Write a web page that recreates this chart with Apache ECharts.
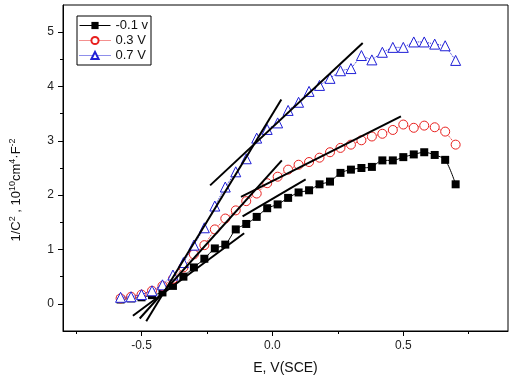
<!DOCTYPE html>
<html>
<head>
<meta charset="utf-8">
<script src="https://cdn.jsdelivr.net/npm/echarts@6/dist/echarts.min.js"></script>
<style>
  html, body { margin: 0; padding: 0; background: #fff; }
  #myChart { width: 512px; height: 380px; }
</style>
</head>
<body>
<div id="myChart"></div>
<script>
// potential, V(SCE)
var potentials = [-0.58, -0.54, -0.50, -0.46, -0.42, -0.38, -0.34, -0.30, -0.26, -0.22, -0.18,
  -0.14, -0.10, -0.06, -0.02, 0.02, 0.06, 0.10, 0.14, 0.18, 0.22, 0.26, 0.30, 0.34, 0.38,
  0.42, 0.46, 0.50, 0.54, 0.58, 0.62, 0.66, 0.70];

// 1/C^2 for the three film formation potentials
var filmM01 = [0.08, 0.10, 0.12, 0.16, 0.21, 0.33, 0.50, 0.67, 0.83, 1.02, 1.09,
  1.37, 1.47, 1.60, 1.76, 1.83, 1.95, 2.05, 2.09, 2.20, 2.25, 2.41, 2.47, 2.50, 2.52,
  2.64, 2.64, 2.70, 2.75, 2.79, 2.74, 2.65, 2.20];
var film03 = [0.10, 0.13, 0.17, 0.24, 0.33, 0.46, 0.67, 0.91, 1.08, 1.37, 1.57,
  1.72, 1.89, 2.03, 2.22, 2.34, 2.47, 2.56, 2.61, 2.69, 2.79, 2.87, 2.93, 3.01, 3.08,
  3.13, 3.20, 3.30, 3.24, 3.28, 3.25, 3.17, 2.93];
var film07 = [0.12, 0.13, 0.17, 0.24, 0.35, 0.53, 0.76, 1.08, 1.40, 1.80, 2.15,
  2.43, 2.67, 3.05, 3.21, 3.33, 3.56, 3.71, 3.91, 4.02, 4.15, 4.29, 4.33, 4.57, 4.49,
  4.63, 4.72, 4.72, 4.82, 4.82, 4.78, 4.75, 4.48];

var seriesNames = ['-0.1 v', '0.3 V', '0.7 V'];

// Mott-Schottky linear fits (end points, data units)
var fitLines = [
  [[-0.482, -0.32], [0.034, 3.76]],
  [[-0.238, 2.18], [0.345, 4.80]],
  [[-0.507, -0.27], [0.036, 2.64]],
  [[-0.120, 1.97], [0.491, 3.45]],
  [[-0.533, -0.22], [-0.108, 1.30]],
  [[-0.114, 1.61], [0.127, 2.29]]
];

var xMajor = [-0.5, 0, 0.5];
var xMinor = [-0.75, -0.25, 0.25, 0.75];
var yMajor = [0, 1, 2, 3, 4, 5];
var yMinor = [0.5, 1.5, 2.5, 3.5, 4.5];

function pairs(xs, ys) {
  return xs.map(function (x, i) { return [x, ys[i]]; });
}

var font = 'Liberation Sans, Arial, sans-serif';

var myChart = echarts.init(document.getElementById('myChart'));

var series = [
  {
    name: seriesNames[0], type: 'line', data: pairs(potentials, filmM01),
    smooth: 0.3, symbol: 'rect', symbolSize: 8,
    itemStyle: { color: '#000' },
    lineStyle: { color: '#000', width: 1 },
    z: 2
  },
  {
    name: seriesNames[1], type: 'line', data: pairs(potentials, film03),
    symbol: 'circle', symbolSize: 9,
    itemStyle: { color: '#fff', borderColor: '#e8201e', borderWidth: 1 },
    lineStyle: { color: '#e8201e', width: 1, type: 'dotted' },
    z: 3
  },
  {
    name: seriesNames[2], type: 'line', data: pairs(potentials, film07),
    symbol: 'triangle', symbolSize: 10,
    itemStyle: { color: '#fff', borderColor: '#1f1fd6', borderWidth: 1 },
    lineStyle: { color: '#1f1fd6', width: 1, type: 'dotted' },
    z: 4
  }
];

fitLines.forEach(function (seg) {
  series.push({
    type: 'line', data: seg, symbol: 'none', silent: true,
    lineStyle: { color: '#000', width: 2 },
    z: 6
  });
});

var option = {
  animation: false,
  textStyle: { fontFamily: font },
  grid: { left: 63, right: 4, top: 5, bottom: 49, show: true, borderColor: '#000', borderWidth: 1 },
  legend: {
    data: seriesNames,
    orient: 'vertical',
    left: 77, top: 16,
    borderColor: '#000', borderWidth: 1,
    padding: [3, 3, 3, 2],
    itemGap: 2,
    itemWidth: 31, itemHeight: 9,
    lineStyle: { width: 1 },
    textStyle: { fontSize: 13, color: '#111', fontFamily: font }
  },
  xAxis: [
    {
      type: 'value', min: -0.8, max: 0.9,
      name: 'E, V(SCE)', nameLocation: 'middle', nameGap: 30,
      nameTextStyle: { fontSize: 14, color: '#111', fontFamily: font },
      splitLine: { show: false },
      axisLine: { onZero: false, lineStyle: { color: '#000' } },
      axisTick: { length: 5, lineStyle: { color: '#000' }, customValues: xMajor },
      axisLabel: { customValues: xMajor, fontSize: 12, color: '#222', margin: 9,
        formatter: function (v) { return v.toFixed(1); } }
    },
    {
      type: 'value', min: -0.8, max: 0.9, position: 'bottom',
      splitLine: { show: false }, axisLine: { show: false, onZero: false },
      axisTick: { length: 3, lineStyle: { color: '#000' }, customValues: xMinor },
      axisLabel: { show: false }
    }
  ],
  yAxis: [
    {
      type: 'value', min: -0.5, max: 5.5,
      name: '1/C{s|2} , 10{s|10}cm{s|4}·F{s|-2}', nameLocation: 'middle', nameGap: 38,
      nameTextStyle: {
        fontSize: 13, color: '#111', fontFamily: font, padding: [0, 44, 0, 0],
        rich: { s: { fontSize: 9, verticalAlign: 'top', padding: [0, 0, 8, 0], color: '#111' } }
      },
      splitLine: { show: false },
      axisLine: { onZero: false, lineStyle: { color: '#000' } },
      axisTick: { length: 5, lineStyle: { color: '#000' }, customValues: yMajor },
      axisLabel: { customValues: yMajor, fontSize: 12, color: '#222', margin: 9 }
    },
    {
      type: 'value', min: -0.5, max: 5.5, position: 'left',
      splitLine: { show: false }, axisLine: { show: false, onZero: false },
      axisTick: { length: 3, lineStyle: { color: '#000' }, customValues: yMinor },
      axisLabel: { show: false }
    }
  ],
  series: series
};

myChart.setOption(option);
</script>
</body>
</html>
